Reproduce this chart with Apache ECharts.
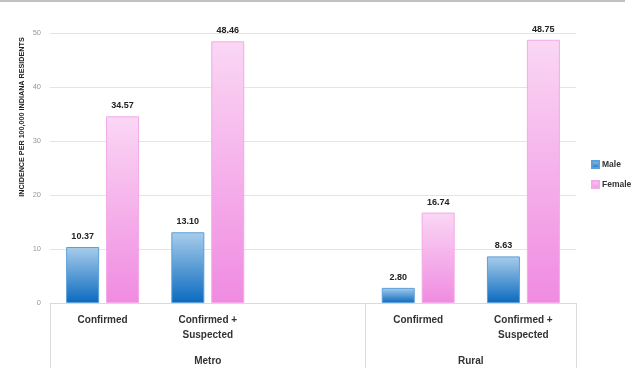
<!DOCTYPE html>
<html><head><meta charset="utf-8">
<script src="https://cdn.jsdelivr.net/npm/echarts@6/dist/echarts.min.js"></script>
<style>html,body{margin:0;padding:0;background:#fff}#c{width:635px;height:375px}</style>
</head><body><div id="c"></div>
<script>
const categories = ['Confirmed', 'Confirmed +\nSuspected', '', 'Confirmed', 'Confirmed +\nSuspected'];
const groups = ['Metro', 'Rural'];
const groupSpans = [3, 2];
const male = [10.37, 13.10, null, 2.80, 8.63];
const female = [34.57, 48.46, null, 16.74, 48.75];
const yTicks = [0, 10, 20, 30, 40, 50];
const yTitle = 'INCIDENCE PER 100,000 INDIANA RESIDENTS';

const bounds = [0]; groupSpans.forEach(s => bounds.push(bounds[bounds.length-1] + s));
const centers = groupSpans.map((s, i) => bounds[i] + s / 2);
const FONT = 'Liberation Sans';
const chart = echarts.init(document.getElementById('c'));
const lbl = { show: true, position: 'top', distance: 6, fontFamily: FONT, fontWeight: 'bold', fontSize: 9, color: '#222',
  formatter: p => p.value == null ? '' : Number(p.value).toFixed(2) };
chart.setOption({
  animation: false,
  grid: { left: 50, right: 59, top: 33, bottom: 72 },
  legend: { orient: 'vertical', left: 586, top: 155, itemWidth: 7, itemHeight: 7, itemGap: 11, icon: 'rect',
    textStyle: { fontFamily: FONT, fontWeight: 'bold', fontSize: 8.5, color: '#333', padding: [0,0,0,-2] },
    data: ['Male', 'Female'] },
  xAxis: [
    { type: 'category', data: categories, position: 'bottom',
      axisLine: { lineStyle: { color: '#d9d9d9' } }, axisTick: { show: false },
      axisLabel: { margin: 10, fontFamily: FONT, fontWeight: 'bold', fontSize: 10, color: '#333', lineHeight: 15, interval: 0 } },
    { type: 'value', min: 0, max: bounds[bounds.length-1], position: 'bottom',
      axisLine: { show: false }, splitLine: { show: false },
      axisTick: { show: true, customValues: bounds, length: 65, lineStyle: { color: '#dcdcdc' } },
      axisLabel: { customValues: centers, margin: 53, fontFamily: FONT, fontWeight: 'bold', fontSize: 10, color: '#333',
        formatter: v => { const i = centers.indexOf(v); return i >= 0 ? groups[i] : ''; } } }
  ],
  yAxis: { type: 'value', min: yTicks[0], max: yTicks[yTicks.length-1], interval: 10,
    axisLine: { show: false }, axisTick: { show: false },
    axisLabel: { margin: 9, fontFamily: FONT, fontSize: 7.5, color: '#999' },
    splitLine: { lineStyle: { color: '#e4e4e4', width: 1.2 } } },
  series: [
    { name: 'Male', type: 'bar', data: male, barWidth: 33, barGap: '21%',
      itemStyle: { borderColor: '#5c9fd9', borderWidth: 1,
        color: new echarts.graphic.LinearGradient(0,0,0,1,[{offset:0,color:'#a8cdeb'},{offset:1,color:'#0a6abf'}]) },
      label: lbl },
    { name: 'Female', type: 'bar', data: female, barWidth: 33,
      itemStyle: { borderColor: '#f4a9e8', borderWidth: 1,
        color: new echarts.graphic.LinearGradient(0,0,0,1,[{offset:0,color:'#fad7f4'},{offset:1,color:'#f08be1'}]) },
      label: lbl }
  ],
  graphic: [
    { type: 'rect', left: 0, top: 0, shape: { width: 625, height: 2 }, style: { fill: '#c0c0c0' } },
    { type: 'text', x: 22, y: 117, rotation: Math.PI / 2,
      style: { text: yTitle, align: 'center', verticalAlign: 'middle', fontFamily: FONT, fontWeight: 'bold', fontSize: 7.2, fill: '#222' } }
  ]
});
</script></body></html>
